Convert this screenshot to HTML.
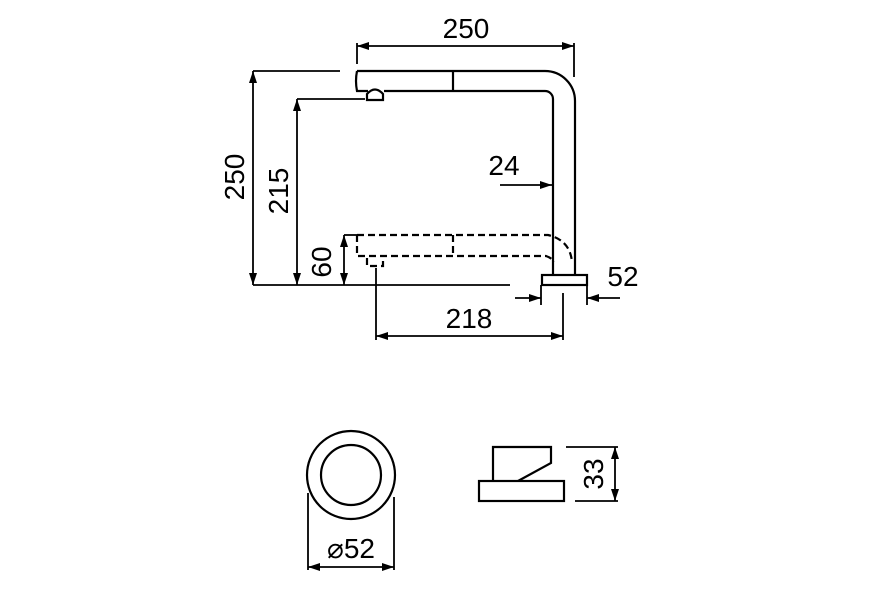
<!DOCTYPE html>
<html><head><style>body{margin:0;background:#fff}svg{display:block}</style></head><body>
<svg width="874" height="608" viewBox="0 0 874 608" xmlns="http://www.w3.org/2000/svg">
<defs>
<marker id="a" viewBox="0 0 12 8" refX="12" refY="4" markerWidth="12" markerHeight="8" orient="auto-start-reverse" markerUnits="userSpaceOnUse"><path d="M0,0L12,4L0,8z" fill="#000"/></marker>
</defs>
<g fill="none" stroke="#000" stroke-width="2.2">
<path d="M357,71 H545 A30,30 0 0 1 575,101 V275"/>
<path d="M384,91 H545 A8,8 0 0 1 553,99 V275"/>
<path d="M357,71 Q355,81 357,91 H368"/>
<line x1="453" y1="71" x2="453" y2="91"/>
<path d="M367,100 V94 Q375,85 383,94 V100 Z"/>
<rect x="542" y="275" width="45" height="10"/>
<g stroke-dasharray="7,4">
<path d="M357,235 H548 Q570,240 572,262"/>
<path d="M357,235 V256 H546 Q552,258 554,262"/>
<path d="M367,258 V266 H383 V258"/>
<line x1="453" y1="235" x2="453" y2="256"/>
</g>
</g>
<g fill="none" stroke="#000" stroke-width="1.8">
<line x1="357" y1="43" x2="357" y2="64"/><line x1="574" y1="43" x2="574" y2="77"/>
<line x1="357" y1="46" x2="574" y2="46" marker-start="url(#a)" marker-end="url(#a)"/>
<line x1="253" y1="71" x2="340" y2="71"/><line x1="253" y1="285" x2="510" y2="285"/>
<line x1="253" y1="71" x2="253" y2="285" marker-start="url(#a)" marker-end="url(#a)"/>
<line x1="297" y1="99" x2="365" y2="99"/>
<line x1="297" y1="99" x2="297" y2="285" marker-start="url(#a)" marker-end="url(#a)"/>
<line x1="344" y1="235" x2="357" y2="235"/>
<line x1="344" y1="235" x2="344" y2="285" marker-start="url(#a)" marker-end="url(#a)"/>
<line x1="376" y1="268" x2="376" y2="340"/><line x1="563" y1="293" x2="563" y2="340"/>
<line x1="376" y1="336" x2="563" y2="336" marker-start="url(#a)" marker-end="url(#a)"/>
<line x1="541" y1="285" x2="541" y2="305"/><line x1="587" y1="285" x2="587" y2="305"/>
<line x1="515" y1="298" x2="541" y2="298" marker-end="url(#a)"/>
<line x1="620" y1="298" x2="587" y2="298" marker-end="url(#a)"/>
<line x1="500" y1="185" x2="552" y2="185" marker-end="url(#a)"/>
<circle cx="351" cy="475" r="44" stroke-width="2.2"/>
<circle cx="351" cy="475" r="30" stroke-width="2.2"/>
<line x1="308" y1="493" x2="308" y2="570"/><line x1="394" y1="497" x2="394" y2="570"/>
<line x1="308" y1="567" x2="394" y2="567" marker-start="url(#a)" marker-end="url(#a)"/>
<rect x="479" y="481" width="85" height="20" stroke-width="2.2"/>
<path d="M493,481 V447 H551 V463 L518,481" stroke-width="2.2"/>
<line x1="566" y1="447" x2="618" y2="447"/><line x1="575" y1="501" x2="618" y2="501"/>
<line x1="615" y1="447" x2="615" y2="501" marker-start="url(#a)" marker-end="url(#a)"/>
</g>
<g font-family="Liberation Sans, sans-serif" font-size="28" fill="#000" text-anchor="middle">
<text x="466" y="38">250</text>
<text x="504" y="175">24</text>
<text x="623" y="286">52</text>
<text x="469" y="328">218</text>
<text x="351" y="558">⌀52</text>
<text transform="translate(244,177) rotate(-90)">250</text>
<text transform="translate(288,191) rotate(-90)">215</text>
<text transform="translate(331,262) rotate(-90)">60</text>
<text transform="translate(603,474) rotate(-90)">33</text>
</g>
</svg>
</body></html>
